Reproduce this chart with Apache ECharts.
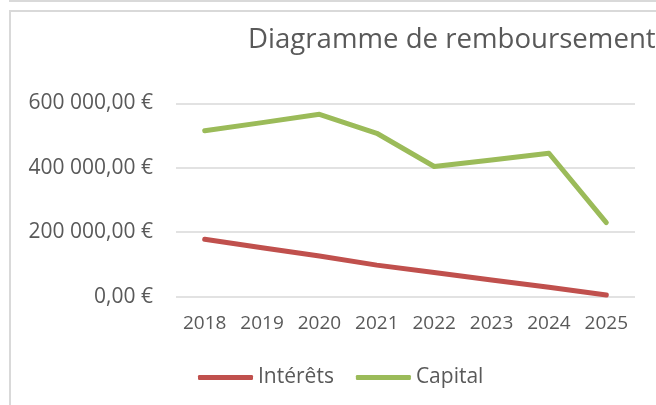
<!DOCTYPE html>
<html>
<head>
<meta charset="utf-8">
<script src="https://cdn.jsdelivr.net/npm/echarts@6/dist/echarts.min.js"></script>
<style>
html,body{margin:0;padding:0;background:#fff;}
#c{width:656px;height:405px;}
</style>
</head>
<body>
<div id="c"></div>
<script>
var titleText = "Diagramme de remboursement";
var years = ["2018","2019","2020","2021","2022","2023","2024","2025"];
var seriesNames = ["Intérêts","Capital"];
var interets = [178000, 152000, 126000, 98000, 75000, 52000, 29000, 5000];
var capital = [515000, 540000, 566000, 507000, 404000, 424000, 445000, 230000];
var yTicks = [0, 200000, 400000, 600000];

function fmtEuro(v){
  var s = Math.round(v).toString().replace(/\B(?=(\d{3})+(?!\d))/g, " ");
  return s + ",00 €";
}

var chart = echarts.init(document.getElementById('c'), null, {renderer:'canvas'});
var gray = '#d9d9d9';
var textColor = '#595959';
var font = "'Open Sans', sans-serif";

chart.setOption({
  animation: false,
  backgroundColor: '#fff',
  title: {
    text: titleText,
    left: 243,
    top: 21,
    textStyle: {fontFamily: font, fontSize: 27.6, fontWeight: 'normal', color: textColor}
  },
  graphic: [
    {type:'line', shape:{x1:9, y1:1, x2:656, y2:1}, style:{stroke:gray, lineWidth:2}},
    {type:'line', shape:{x1:10, y1:0, x2:10, y2:2}, style:{stroke:gray, lineWidth:2}},
    {type:'line', shape:{x1:9, y1:11, x2:656, y2:11}, style:{stroke:gray, lineWidth:2}},
    {type:'line', shape:{x1:10, y1:10, x2:10, y2:405}, style:{stroke:gray, lineWidth:2}}
  ],
  legend: {
    data: seriesNames,
    left: 193,
    top: 362,
    itemWidth: 55,
    itemHeight: 5,
    itemGap: 22,
    icon: 'roundRect',
    textStyle: {fontFamily: font, fontSize: 21, color: textColor}
  },
  grid: {left: 176, right: 21, top: 103.3, bottom: 108.3, containLabel: false},
  xAxis: {
    type: 'category',
    data: years,
    boundaryGap: true,
    axisLine: {show: false},
    axisTick: {show: false},
    axisLabel: {fontFamily: font, fontSize: 19, color: textColor, margin: 17}
  },
  yAxis: {
    type: 'value',
    min: yTicks[0],
    max: yTicks[yTicks.length-1],
    interval: yTicks[1]-yTicks[0],
    axisLine: {show: false},
    axisTick: {show: false},
    splitLine: {lineStyle: {color: gray, width: 1.5}},
    axisLabel: {fontFamily: font, fontSize: 21, color: textColor, margin: 23, formatter: fmtEuro}
  },
  series: [
    {name: seriesNames[0], type: 'line', data: interets, symbol: 'none',
     lineStyle: {color: '#C0504D', width: 5, cap: 'round', join: 'round'}, itemStyle: {color: '#C0504D'}},
    {name: seriesNames[1], type: 'line', data: capital, symbol: 'none',
     lineStyle: {color: '#9BBB59', width: 5, cap: 'round', join: 'round'}, itemStyle: {color: '#9BBB59'}}
  ]
});
</script>
</body>
</html>
